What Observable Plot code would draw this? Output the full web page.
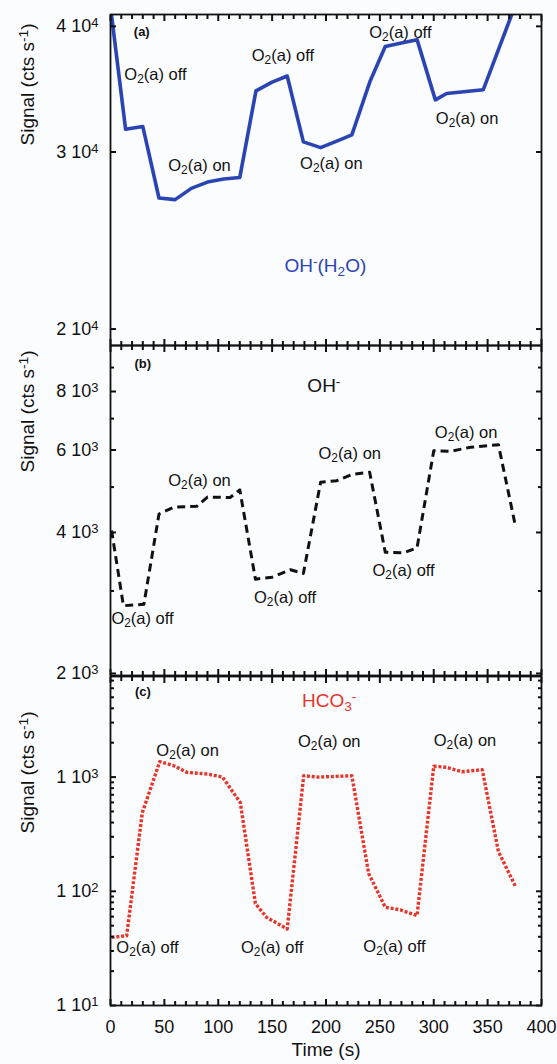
<!DOCTYPE html>
<html><head><meta charset="utf-8">
<script src="https://cdn.jsdelivr.net/npm/d3@7"></script>
<script src="https://cdn.jsdelivr.net/npm/@observablehq/plot@0.6"></script>
<style>
html,body{margin:0;padding:0;background:#fbfcfe;}
#wrap{position:relative;width:557px;height:1064px;}
#wrap svg{position:absolute;left:0;top:0;overflow:visible;}
</style></head><body><div id="wrap"></div>
<script>
// ---------- data ----------
const xMajor = [0, 50, 100, 150, 200, 250, 300, 350, 400];
const xMinor = [10,20,30,40,60,70,80,90,110,120,130,140,160,170,180,190,210,220,230,240,260,270,280,290,310,320,330,340,360,370,380,390];

// panel (a) OH-(H2O)
const timeA = [1, 14, 30, 45, 60, 75, 90, 105, 120, 135, 150, 164, 179, 195, 210, 224, 241, 255, 270, 284.5, 301.5, 312, 330, 346, 375];
const sigA  = [41000, 31600, 31800, 27000, 26900, 27600, 28000, 28200, 28300, 34500, 35200, 35700, 30700, 30300, 30750, 31200, 35300, 38200, 38500, 38800, 33800, 34300, 34450, 34600, 41800];
const yTicksA = [20000, 30000, 40000];
const yTickLabelsA = ["2 10^{4}", "3 10^{4}", "4 10^{4}"];
const annTimeA = [41.7, 82.6, 160, 205, 269, 331];
const annSigA  = [35800, 29100, 37400, 29200, 39400, 32400];
const annTextA = ["O_{2}(a) off", "O_{2}(a) on", "O_{2}(a) off", "O_{2}(a) on", "O_{2}(a) off", "O_{2}(a) on"];

// panel (b) OH-
const timeB = [1, 12, 31, 45, 59, 80, 90, 111, 120, 134.5, 150, 167, 179, 195, 210, 224, 240.5, 255, 272, 284.5, 300, 315, 334, 360, 375.7];
const sigB  = [4040, 2790, 2810, 4380, 4530, 4550, 4760, 4750, 4930, 3180, 3210, 3330, 3270, 5120, 5160, 5320, 5380, 3630, 3620, 3710, 5980, 5960, 6080, 6160, 4140];
const yTicksB = [2000, 4000, 6000, 8000];
const yMinorB = [3000, 5000, 7000, 9000];
const yTickLabelsB = ["2 10^{3}", "4 10^{3}", "6 10^{3}", "8 10^{3}"];
const annTimeB = [82.6, 29.7, 162, 222, 272, 330];
const annSigB  = [5160, 2620, 2900, 5900, 3320, 6540];
const annTextB = ["O_{2}(a) on", "O_{2}(a) off", "O_{2}(a) off", "O_{2}(a) on", "O_{2}(a) off", "O_{2}(a) on"];

// panel (c) HCO3-
const timeC = [1, 15, 29.5, 45.7, 58.7, 71, 90, 104, 120.5, 134.5, 145, 164, 179.3, 193, 224, 239.6, 255, 269, 284.5, 300, 312, 326, 345, 360, 375.7];
const sigC  = [39.5, 40.8, 487, 1366, 1259, 1100, 1063, 1000, 597, 78, 59, 46.8, 1027, 1000, 1027, 143, 72.6, 68.8, 61.3, 1243, 1218, 1114, 1160, 223, 111];
const yTicksC = [10, 100, 1000];
const yMinorC = [20,30,40,50,60,70,80,90,200,300,400,500,600,700,800,900,2000,3000,4000,5000,6000,7000];
const yTickLabelsC = ["1 10^{1}", "1 10^{2}", "1 10^{3}"];
const annTimeC = [71.6, 34.3, 150, 203, 263.5, 329];
const annSigC  = [1698, 31.9, 31.9, 2041, 33, 2087];
const annTextC = ["O_{2}(a) on", "O_{2}(a) off", "O_{2}(a) off", "O_{2}(a) on", "O_{2}(a) off", "O_{2}(a) on"];

// ---------- drawing ----------
const W = 557, H = 1064, ML = 110, MR = 16;
const FONT = "'Liberation Sans', Arial, Helvetica, sans-serif";
const BLUE = "#2a44b4", RED = "#e8352a", INK = "#111";

function rich(el) {
  const s = el.textContent;
  if (!/[_^]\{/.test(s)) return;
  el.textContent = "";
  const re = /([_^])\{([^}]*)\}/g;
  let last = 0, m;
  while ((m = re.exec(s))) {
    if (m.index > last) el.appendChild(document.createTextNode(s.slice(last, m.index)));
    const t = document.createElementNS("http://www.w3.org/2000/svg", "tspan");
    t.setAttribute("baseline-shift", m[1] === "^" ? "42%" : "-28%");
    t.setAttribute("font-size", "72%");
    t.textContent = m[2];
    el.appendChild(t);
    last = re.lastIndex;
  }
  if (last < s.length) el.appendChild(document.createTextNode(s.slice(last)));
}

// inward tick marks along the four frame edges (negative tick size = inward)
function tickMarks(yMajor, yMinor) {
  const st = {tickFormat: () => "", label: null, stroke: INK, strokeWidth: 2, strokeLinecap: "butt"};
  const out = [
    Plot.axisX({anchor: "top", ticks: xMajor, tickSize: -6, ...st}),
    Plot.axisX({anchor: "top", ticks: xMinor, tickSize: -4, ...st}),
    Plot.axisX({anchor: "bottom", ticks: xMajor, tickSize: -6, ...st}),
    Plot.axisX({anchor: "bottom", ticks: xMinor, tickSize: -4, ...st}),
    Plot.axisY({anchor: "left", ticks: yMajor, tickSize: -6, ...st}),
    Plot.axisY({anchor: "right", ticks: yMajor, tickSize: -6, ...st})
  ];
  if (yMinor) {
    out.push(Plot.axisY({anchor: "left", ticks: yMinor, tickSize: -4, ...st}));
    out.push(Plot.axisY({anchor: "right", ticks: yMinor, tickSize: -4, ...st}));
  }
  return out;
}

function panel(o) {
  const line = o.t.map((t, i) => ({t, v: o.v[i]}));
  const ann = o.annT.map((t, i) => ({t, v: o.annV[i], s: o.annS[i]}));
  const marks = [
    Plot.line(line, {x: "t", y: "v", clip: true, ...o.lineStyle}),
    ...tickMarks(o.yMajor, o.yMinor),
    Plot.axisY({anchor: "left", ticks: o.yMajor, tickSize: 0, tickPadding: 12,
      tickFormat: d => o.yLabels[o.yMajor.indexOf(d)], fontSize: 18, label: null, fill: INK}),
    Plot.text(ann, {x: "t", y: "v", text: "s", fontSize: 16.5, fill: INK}),
    Plot.text([0], {frameAnchor: "left", dx: -83, dy: o.labelDy, rotate: -90,
      text: () => "Signal (cts s^{-1})", fontSize: 19, fill: INK}),
    ...o.extra,
    Plot.frame({stroke: INK, strokeWidth: 1.8})
  ];
  const svg = Plot.plot({
    width: W, height: H,
    marginLeft: ML, marginRight: MR, marginTop: o.top, marginBottom: H - o.bottom,
    style: {fontFamily: FONT, background: "transparent", overflow: "visible", color: INK},
    x: {domain: [0, 400]},
    y: {type: "log", domain: o.domain},
    marks
  });
  svg.querySelectorAll("text, tspan").forEach(rich);
  document.getElementById("wrap").appendChild(svg);
}

panel({
  top: 14, bottom: 345, domain: [19260, 41100],
  t: timeA, v: sigA, yMajor: yTicksA, yMinor: null, yLabels: yTickLabelsA,
  lineStyle: {stroke: BLUE, strokeWidth: 3.6, strokeLinejoin: "round"},
  annT: annTimeA, annV: annSigA, annS: annTextA, labelDy: -34.5,
  extra: [
    Plot.text([0], {x: () => 29, y: () => 39500, text: () => "(a)", fontSize: 13, fontWeight: "bold", fill: INK}),
    Plot.text([0], {x: () => 199.4, y: () => 23100, text: () => "OH^{-}(H_{2}O)", fontSize: 19, fill: BLUE})
  ]
});

panel({
  top: 345, bottom: 675, domain: [1980, 10030],
  t: timeB, v: sigB, yMajor: yTicksB, yMinor: yMinorB, yLabels: yTickLabelsB,
  lineStyle: {stroke: INK, strokeWidth: 3, strokeDasharray: "8,5", strokeLinecap: "butt"},
  annT: annTimeB, annV: annSigB, annS: annTextB, labelDy: -38,
  extra: [
    Plot.text([0], {x: () => 30, y: () => 9180, text: () => "(b)", fontSize: 13, fontWeight: "bold", fill: INK}),
    Plot.text([0], {x: () => 182.7, y: () => 8240, text: () => "OH^{-}", textAnchor: "start", fontSize: 19, fill: INK})
  ]
});

panel({
  top: 676, bottom: 1005, domain: [10, 7600],
  t: timeC, v: sigC, yMajor: yTicksC, yMinor: yMinorC, yLabels: yTickLabelsC,
  lineStyle: {stroke: RED, strokeWidth: 3.4, strokeDasharray: "3,1.8", strokeLinecap: "butt"},
  annT: annTimeC, annV: annSigC, annS: annTextC, labelDy: -7.5,
  extra: [
    Plot.text([0], {x: () => 30, y: () => 5530, text: () => "(c)", fontSize: 13, fontWeight: "bold", fill: INK}),
    Plot.text([0], {x: () => 203, y: () => 4613, text: () => "HCO_{3}^{-}", fontSize: 19, fill: RED}),
    Plot.axisX({anchor: "bottom", ticks: xMajor, tickSize: 0, tickPadding: 15, fontSize: 18, label: null, fill: INK}),
    Plot.text([0], {frameAnchor: "bottom", dy: 50, text: () => "Time (s)", fontSize: 19, fill: INK})
  ]
});
</script></body></html>
